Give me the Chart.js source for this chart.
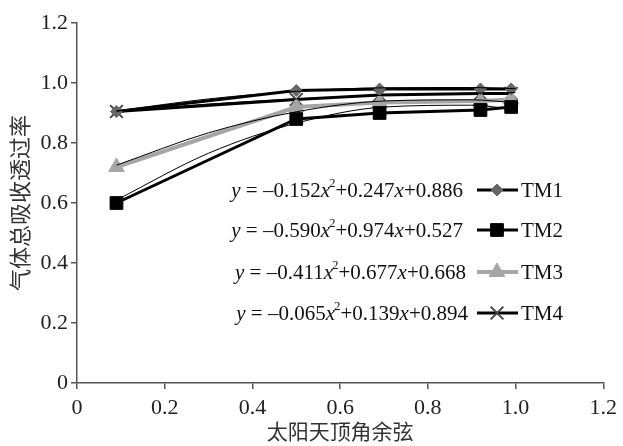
<!DOCTYPE html>
<html>
<head>
<meta charset="utf-8">
<script src="https://cdn.jsdelivr.net/npm/chart.js@4/dist/chart.umd.min.js"></script>
<style>
  html, body { margin: 0; padding: 0; background: #fff; }
  #wrap { width: 623px; height: 446px; }
</style>
</head>
<body>
<div id="wrap"><canvas id="grafico" width="623" height="446"></canvas></div>
<script>
// valori
var coseni = [0.09, 0.50, 0.69, 0.92, 0.99];
var tm1 = [0.905, 0.975, 0.98, 0.98, 0.98];
var tm2 = [0.60, 0.88, 0.90, 0.91, 0.92];
var tm3 = [0.72, 0.92, 0.935, 0.94, 0.945];
var tm4 = [0.905, 0.945, 0.96, 0.965, 0.965];

// linee di tendenza
var coseni_trend = [0.09, 0.3, 0.5, 0.7, 0.9, 1.0];
var trend1 = [0.907, 0.947, 0.972, 0.984, 0.985, 0.981];
var trend2 = [0.61, 0.766, 0.866, 0.920, 0.926, 0.911];
var trend3 = [0.726, 0.834, 0.904, 0.940, 0.944, 0.934];
var trend4 = [0.906, 0.930, 0.947, 0.959, 0.966, 0.968];

var nomi = ['TM1', 'TM2', 'TM3', 'TM4'];
var equazioni = [
    ['0.152', '0.247', '0.886'],
    ['0.590', '0.974', '0.527'],
    ['0.411', '0.677', '0.668'],
    ['0.065', '0.139', '0.894']
];
var ticks_x = [0, 0.2, 0.4, 0.6, 0.8, 1.0, 1.2];
var ticks_y = [0, 0.2, 0.4, 0.6, 0.8, 1.0, 1.2];

var serif = '"Liberation Serif", "DejaVu Serif", serif';
var cjk = '"Noto Sans CJK SC", sans-serif';

function punti(xs, ys) {
    var out = [];
    for (var i = 0; i < xs.length; i++) {
        out.push({ x: xs[i], y: ys[i] });
    }
    return out;
}

var stili = [
    { line: '#000', fill: '#666', point: 'rectRot', r: 6, width: 3 },
    { line: '#000', fill: '#000', point: 'rect', r: 9, width: 3 },
    { line: '#a6a6a6', fill: '#a6a6a6', point: 'triangle', r: 9, width: 4 },
    { line: '#000', fill: '#555', point: 'crossRot', r: 9, width: 3 }
];

var serie = [tm1, tm2, tm3, tm4];
var trends = [trend1, trend2, trend3, trend4];
var datasets = [];
for (var i = 0; i < serie.length; i++) {
    var s = stili[i];
    datasets.push({
        label: nomi[i],
        data: punti(coseni, serie[i]),
        borderColor: s.line,
        borderWidth: s.width,
        pointStyle: s.point,
        pointRadius: s.r,
        pointBackgroundColor: s.fill,
        pointBorderColor: s.point == 'crossRot' ? '#444' : s.fill,
        pointBorderWidth: s.point == 'crossRot' ? 2 : 1,
        tension: 0,
        order: 2
    });
}
for (var i = 0; i < trends.length; i++) {
    datasets.push({
        label: 'trend ' + nomi[i],
        data: punti(coseni_trend, trends[i]),
        borderColor: '#000',
        borderWidth: 1,
        pointRadius: 0,
        cubicInterpolationMode: 'monotone',
        order: 1
    });
}

// legenda con le equazioni disegnata dentro il grafico
var legendaEquazioni = {
    id: 'legendaEquazioni',
    afterDraw: function(chart) {
        var ctx = chart.ctx;
        var righe = [190, 230, 272, 313];
        var fine_eq = [463, 463, 466, 468];
        ctx.save();
        ctx.fillStyle = '#111';
        ctx.textBaseline = 'middle';
        for (var i = 0; i < nomi.length; i++) {
            var y = righe[i];
            var e = equazioni[i];
            var pezzi = [
                { t: 'y', f: 'italic 21px ' + serif },
                { t: ' = \u2013' + e[0], f: '21px ' + serif },
                { t: 'x', f: 'italic 21px ' + serif },
                { t: '2', f: '13px ' + serif, sup: true },
                { t: '+' + e[1], f: '21px ' + serif },
                { t: 'x', f: 'italic 21px ' + serif },
                { t: '+' + e[2], f: '21px ' + serif }
            ];
            var tot = 0;
            for (var k = 0; k < pezzi.length; k++) {
                ctx.font = pezzi[k].f;
                pezzi[k].w = ctx.measureText(pezzi[k].t).width;
                if (pezzi[k].sup) pezzi[k].w -= 1;
                tot += pezzi[k].w;
            }
            var x = fine_eq[i] - tot;
            ctx.textAlign = 'left';
            for (var k = 0; k < pezzi.length; k++) {
                ctx.font = pezzi[k].f;
                ctx.fillText(pezzi[k].t, pezzi[k].sup ? x - 1 : x, pezzi[k].sup ? y - 6 : y + 1);
                x += pezzi[k].w;
            }
            // campione di linea e marcatore
            var s = stili[i];
            ctx.strokeStyle = s.line;
            ctx.lineWidth = s.width;
            ctx.beginPath();
            ctx.moveTo(477, y);
            ctx.lineTo(518, y);
            ctx.stroke();
            ctx.fillStyle = s.fill;
            ctx.strokeStyle = s.point == 'crossRot' ? '#444' : s.fill;
            ctx.lineWidth = s.point == 'crossRot' ? 2 : 1;
            Chart.helpers.drawPoint(ctx, { pointStyle: s.point, radius: s.r, borderWidth: ctx.lineWidth }, 497, y);
            ctx.fillStyle = '#111';
            ctx.font = '21px ' + serif;
            ctx.fillText(nomi[i], 521, y + 1);
        }
        ctx.restore();
    }
};

var ctx = document.getElementById('grafico').getContext('2d');
var myChart = new Chart(ctx, {
    type: 'line',
    data: { datasets: datasets },
    options: {
        responsive: false,
        animation: false,
        layout: { padding: { top: 23, right: 8, left: 6, bottom: 2 } },
        plugins: {
            legend: { display: false },
            tooltip: { enabled: false }
        },
        scales: {
            x: {
                type: 'linear',
                min: 0,
                max: 1.2,
                afterBuildTicks: function(scale) {
                    scale.ticks = ticks_x.map(function(v) { return { value: v }; });
                },
                afterFit: function(scale) { scale.height = 61; },
                grid: { drawOnChartArea: false, drawTicks: true, tickLength: 6, color: '#555', lineWidth: 1.5 },
                border: { color: '#555', width: 1.5 },
                ticks: {
                    color: '#222',
                    font: { family: serif, size: 22 },
                    padding: 6,
                    maxRotation: 0,
                    callback: function(v) { return v == 0 ? '0' : v.toFixed(1); }
                },
                title: {
                    display: true,
                    text: '太阳天顶角余弦',
                    color: '#333',
                    font: { family: cjk, size: 21 },
                    padding: { top: 0, bottom: 0 }
                }
            },
            y: {
                min: 0,
                max: 1.2,
                afterBuildTicks: function(scale) {
                    scale.ticks = ticks_y.map(function(v) { return { value: v }; });
                },
                afterFit: function(scale) { scale.width = 71; },
                grid: { drawOnChartArea: false, drawTicks: true, tickLength: 6, color: '#555', lineWidth: 1.5 },
                border: { color: '#555', width: 1.5 },
                ticks: {
                    color: '#222',
                    font: { family: serif, size: 22 },
                    padding: 3,
                    callback: function(v) { return v == 0 ? '0' : v.toFixed(1); }
                },
                title: {
                    display: true,
                    text: '气体总吸收透过率',
                    color: '#333',
                    font: { family: cjk, size: 22 },
                    padding: { top: 0, bottom: 2 }
                }
            }
        }
    },
    plugins: [legendaEquazioni]
});
</script>
</body>
</html>
